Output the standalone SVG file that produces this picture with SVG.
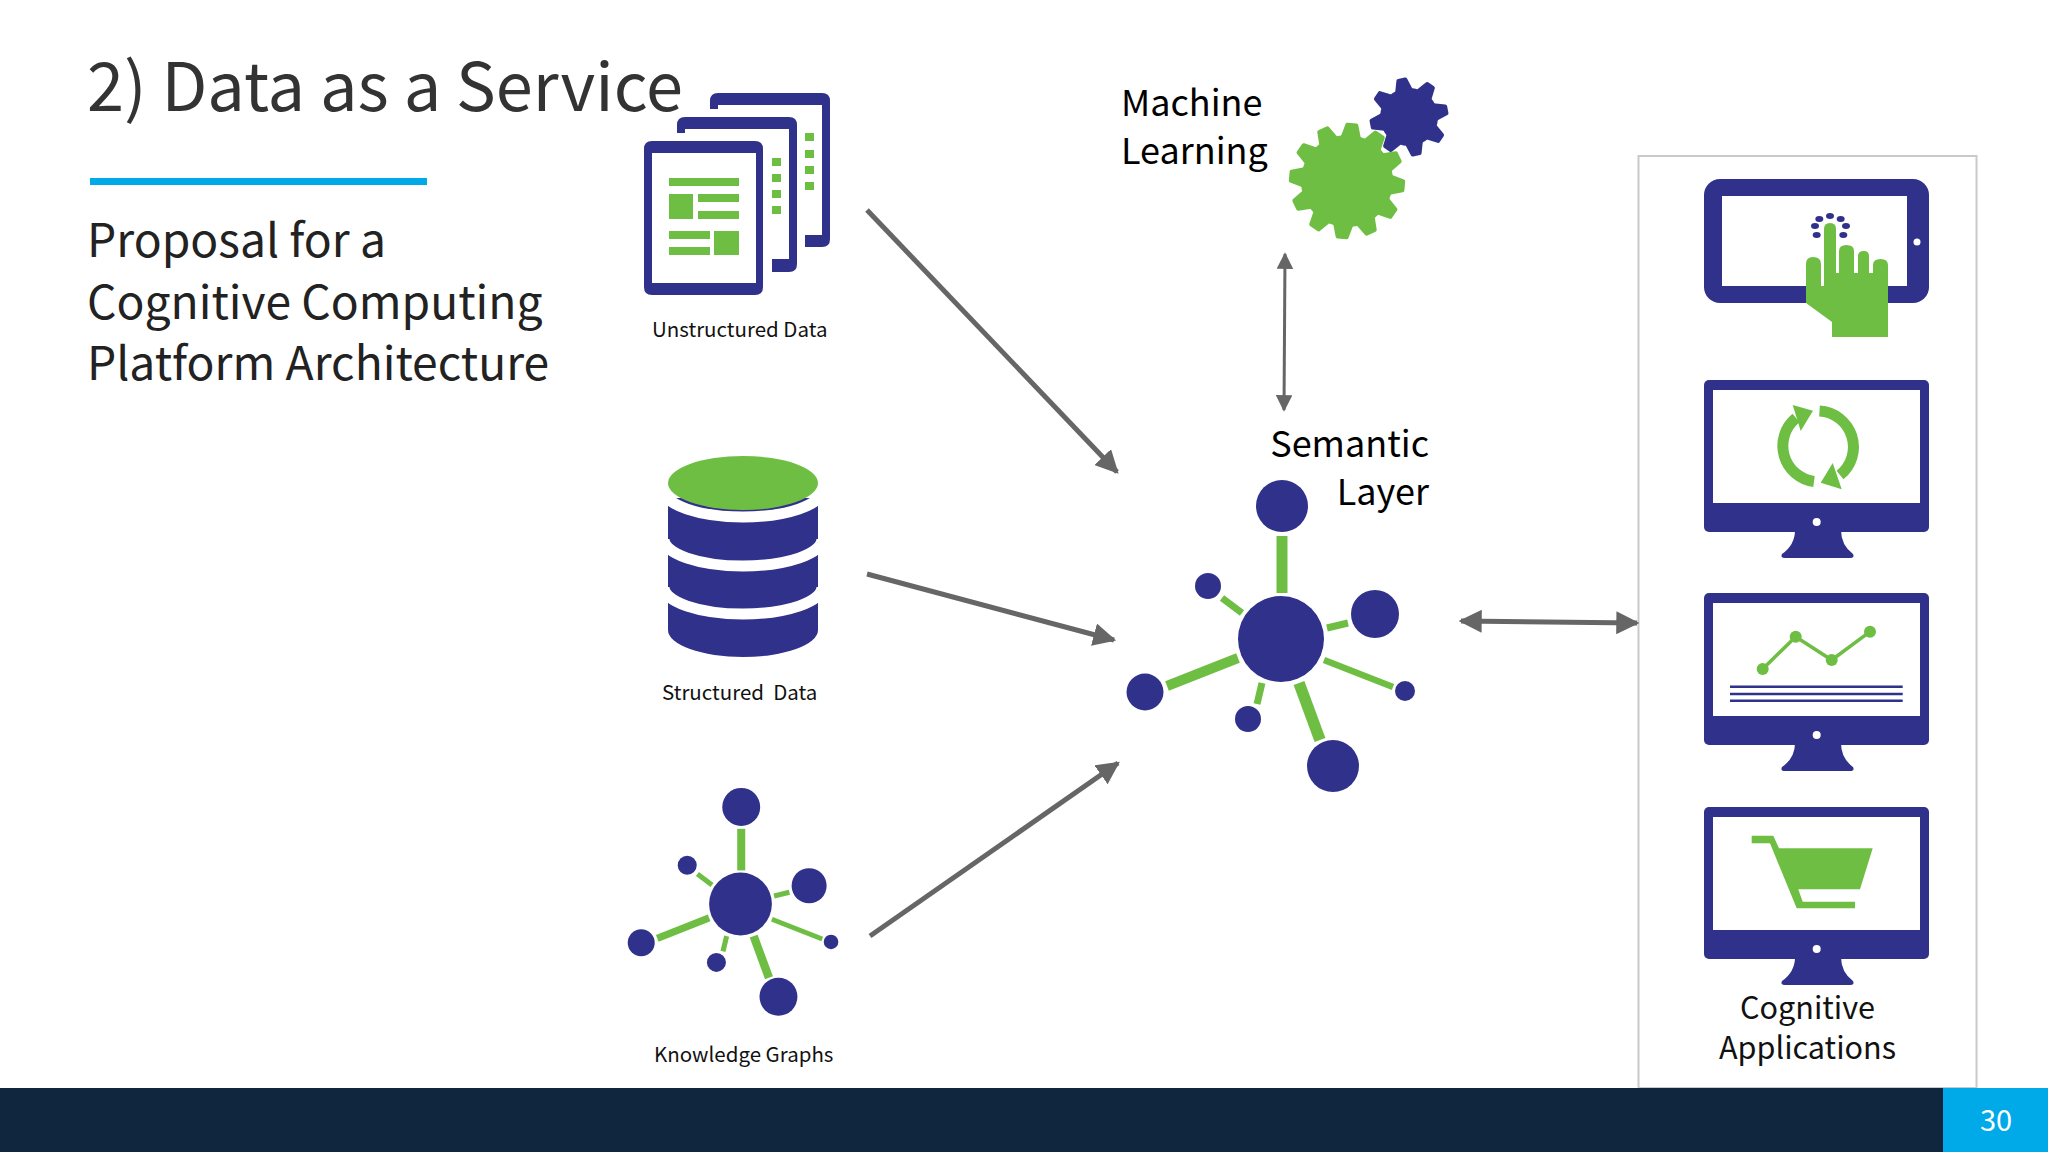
<svg xmlns="http://www.w3.org/2000/svg" width="2048" height="1152" viewBox="0 0 2048 1152">
<style>
text{font-family:"Noto Sans CJK SC","Source Sans Pro","Noto Sans",sans-serif;white-space:pre;font-weight:400}
.title{font-size:66.700px;fill:#333}
.sub{font-size:46.200px;fill:#222}
.lab{font-size:36px;fill:#000}
.app{font-size:30.600px;fill:#111}
.cap{font-size:20.500px;fill:#111}
.navy{fill:#30318b}
.green{fill:#6fbe44}
.gl{stroke:#6fbe44;fill:none}
.conn{stroke:#666;stroke-width:5;fill:none}
.thin{stroke:#666;stroke-width:3;fill:none}
.tb{fill:#30318b;stroke:#30318b;stroke-width:4;stroke-linejoin:round}
.tg{fill:#6fbe44;stroke:#6fbe44;stroke-width:4;stroke-linejoin:round}
</style>
<defs>
<marker id="ah" viewBox="0 0 10 10" refX="9" refY="5" markerWidth="4.600" markerHeight="4.600" orient="auto-start-reverse" markerUnits="strokeWidth"><path d="M0,0L10,5L0,10Z" fill="#666"/></marker>
<marker id="ah2" viewBox="0 0 10 10" refX="9" refY="5" markerWidth="5.500" markerHeight="5.500" orient="auto-start-reverse" markerUnits="strokeWidth"><path d="M0,0L10,5L0,10Z" fill="#666"/></marker>
<path id="tooth-b" class="tb" d="M26,-7L37.500,-3.500V3.500L26,7Z"/>
<path id="tooth-g" class="tg" d="M42,-8.500L56,-4.500V4.500L42,8.500Z"/>
<g id="net">
<g class="gl">
<path stroke-width="11" d="M1282,536V593"/>
<path stroke-width="7" d="M1222,598L1242,613"/>
<path stroke-width="7" d="M1327,628L1348,623"/>
<path stroke-width="10" d="M1167,686L1238,658"/>
<path stroke-width="6.500" d="M1324,660L1393,687"/>
<path stroke-width="7" d="M1262,683L1257,704"/>
<path stroke-width="11.500" d="M1299,683L1320,740"/>
</g>
<g class="navy">
<circle cx="1281" cy="639" r="43"/>
<circle cx="1282" cy="506" r="26"/>
<circle cx="1208" cy="586" r="13"/>
<circle cx="1375" cy="614" r="24"/>
<circle cx="1145" cy="692" r="18.500"/>
<circle cx="1405" cy="691" r="10"/>
<circle cx="1248" cy="719" r="13"/>
<circle cx="1333" cy="766" r="26"/>
</g>
</g>
<g id="monitor">
<rect class="navy" x="1704" y="380" width="225" height="152" rx="5"/>
<path class="navy" d="M1795,530Q1795,545 1782,554Q1780,558 1785,558H1850Q1855,558 1853,554Q1841,545 1841,530Z"/>
<rect x="1713" y="390" width="207" height="113" fill="#fff"/>
<circle cx="1816.700" cy="522" r="4" fill="#fff"/>
</g>
</defs>
<rect width="2048" height="1152" fill="#fff"/>
<g id="title">
<text class="title" x="87" y="111">2) Data as a Service</text>
<rect x="90" y="178" width="337" height="7" fill="#00a9e8"/>
<text class="sub" x="87" y="257">Proposal for a</text>
<text class="sub" x="87" y="319">Cognitive Computing</text>
<text class="sub" x="87" y="380">Platform Architecture</text>
</g>
<g id="unstructured-data">
<path class="navy" d="M710,109V101Q710,93 718,93H822Q830,93 830,101V239Q830,247 822,247H805V235H822V105H718V109Z"/>
<path class="navy" d="M677,133V125Q677,117 685,117H789Q797,117 797,125V264Q797,272 789,272H772V259H789V129H685V133Z"/>
<path class="navy" fill-rule="evenodd" d="M652,141H755Q763,141 763,149V287Q763,295 755,295H652Q644,295 644,287V149Q644,141 652,141ZM652,153V283H756V153Z"/>
<g class="green">
<rect x="669" y="178" width="70" height="8"/><rect x="669" y="194" width="24" height="25"/><rect x="698" y="194" width="41" height="8"/><rect x="698" y="211" width="41" height="8"/>
<rect x="669" y="231" width="41" height="8"/><rect x="669" y="247" width="41" height="8"/><rect x="714" y="231" width="25" height="24"/>
<rect x="772" y="158" width="9" height="8"/><rect x="772" y="174" width="9" height="8"/><rect x="772" y="190" width="9" height="8"/><rect x="772" y="206" width="9" height="8"/>
<rect x="805" y="133" width="9" height="8"/><rect x="805" y="150" width="9" height="8"/><rect x="805" y="166" width="9" height="8"/><rect x="805" y="182" width="9" height="8"/>
</g>
<text class="cap" x="652" y="337">Unstructured Data</text>
</g>
<g id="structured-data">
<path class="navy" d="M668,498H818V630A75,27 0 0 1 668,630Z"/>
<g fill="none" stroke="#fff" stroke-width="11">
<path d="M664,490A79,27 0 0 0 822,490"/>
<path d="M664,539A79,27 0 0 0 822,539"/>
<path d="M664,587A79,27 0 0 0 822,587"/>
</g>
<ellipse class="green" cx="743" cy="483" rx="75" ry="27"/>
<text class="cap" x="662" y="700">Structured  Data</text>
</g>
<g id="knowledge-graphs">
<use href="#net" transform="translate(740.500,904) scale(.73) translate(-1281,-639)"/>
<text class="cap" x="654" y="1062">Knowledge Graphs</text>
</g>
<g id="machine-learning">
<g transform="translate(1409,117)">
<circle class="navy" r="29"/>
<use href="#tooth-b" transform="rotate(-101)"/><use href="#tooth-b" transform="rotate(-56)"/><use href="#tooth-b" transform="rotate(-11)"/><use href="#tooth-b" transform="rotate(34)"/><use href="#tooth-b" transform="rotate(79)"/><use href="#tooth-b" transform="rotate(124)"/><use href="#tooth-b" transform="rotate(169)"/><use href="#tooth-b" transform="rotate(214)"/>
</g>
<g transform="translate(1347,181)">
<circle class="green" r="46"/>
<use href="#tooth-g" transform="rotate(-85)"/><use href="#tooth-g" transform="rotate(-55)"/><use href="#tooth-g" transform="rotate(-25)"/><use href="#tooth-g" transform="rotate(5)"/><use href="#tooth-g" transform="rotate(35)"/><use href="#tooth-g" transform="rotate(65)"/><use href="#tooth-g" transform="rotate(95)"/><use href="#tooth-g" transform="rotate(125)"/><use href="#tooth-g" transform="rotate(155)"/><use href="#tooth-g" transform="rotate(185)"/><use href="#tooth-g" transform="rotate(215)"/><use href="#tooth-g" transform="rotate(245)"/>
</g>
<text class="lab" x="1121" y="116">Machine</text>
<text class="lab" x="1121" y="164">Learning</text>
</g>
<g id="semantic-layer">
<use href="#net"/>
<text class="lab" x="1429" y="457" text-anchor="end">Semantic</text>
<text class="lab" x="1429" y="505" text-anchor="end">Layer</text>
</g>
<g id="cognitive-applications">
<rect x="1638.500" y="156" width="338" height="932" fill="none" stroke="#c9c9c9" stroke-width="2"/>
<rect class="navy" x="1704" y="179" width="225" height="124" rx="16"/>
<rect x="1722" y="196" width="185" height="90" fill="#fff"/>
<circle cx="1917" cy="242" r="3.500" fill="#fff"/>
<path class="green" d="M1806,264Q1806,257 1813,257Q1821,257 1821,264V286H1824V229Q1824,223 1830,223Q1836,223 1836,229V273H1839V251Q1839,245 1846.500,245Q1854,245 1854,251V273H1858V256Q1858,251 1864,251Q1869,251 1869,256V273H1873V265Q1873,259 1880.500,259Q1888,259 1888,265V337H1832V322L1806,303Z"/>
<g class="navy">
<ellipse cx="1816.700" cy="235" rx="4" ry="3"/><ellipse cx="1815" cy="226" rx="4" ry="3"/><ellipse cx="1819.300" cy="219" rx="4" ry="3"/><ellipse cx="1830" cy="216" rx="4" ry="3"/><ellipse cx="1840.700" cy="219" rx="4" ry="3"/><ellipse cx="1846" cy="226" rx="4" ry="3"/><ellipse cx="1843.300" cy="235" rx="4" ry="3"/>
</g>
<use href="#monitor"/>
<g>
<path class="gl" stroke-width="11" d="M1814,481.500A36,36 0 0 1 1796,418"/>
<path class="gl" stroke-width="11" d="M1819.500,411A36,36 0 0 1 1840,475"/>
<path class="green" d="M1792.700,405L1813,410.700L1800.700,431Z"/>
<path class="green" d="M1841.700,489.300L1820.700,482.700L1832.700,463Z"/>
</g>
<use href="#monitor" y="213"/>
<path class="gl" stroke-width="3.500" d="M1762.700,669L1795.700,636.700L1831.700,660L1870,631.700"/>
<g class="green"><circle cx="1762.700" cy="669" r="6"/><circle cx="1795.700" cy="636.700" r="6"/><circle cx="1831.700" cy="660" r="6"/><circle cx="1870" cy="631.700" r="6"/></g>
<path fill="none" stroke="#30318b" stroke-width="2.500" d="M1730,686.700H1902.700M1730,694H1902.700M1730,700.700H1902.700"/>
<use href="#monitor" y="427"/>
<path class="green" d="M1751.700,835.700H1773.300L1779,848.300H1872.700L1860,889.300H1798.300L1802.700,901.700H1855V908.300H1796.700L1770,843.300H1751.700Z"/>
<text class="app" x="1807.500" y="1019" text-anchor="middle">Cognitive</text>
<text class="app" x="1807.500" y="1059" text-anchor="middle">Applications</text>
</g>
<g id="connectors">
<path class="conn" marker-end="url(#ah)" d="M867,210L1117,472"/>
<path class="conn" marker-end="url(#ah)" d="M867,574L1114,640"/>
<path class="conn" marker-end="url(#ah)" d="M870,936L1118,763"/>
<path class="thin" marker-start="url(#ah2)" marker-end="url(#ah2)" d="M1285,254L1284,410"/>
<path class="conn" stroke-width="4" marker-start="url(#ah)" marker-end="url(#ah)" d="M1461,621L1637,623"/>
</g>
<g id="footer">
<rect y="1088" width="2048" height="64" fill="#10263e"/>
<rect x="1943" y="1088" width="105" height="64" fill="#00a9e8"/>
<text x="1996" y="1131" text-anchor="middle" font-size="29" fill="#fff">30</text>
</g>
</svg>
